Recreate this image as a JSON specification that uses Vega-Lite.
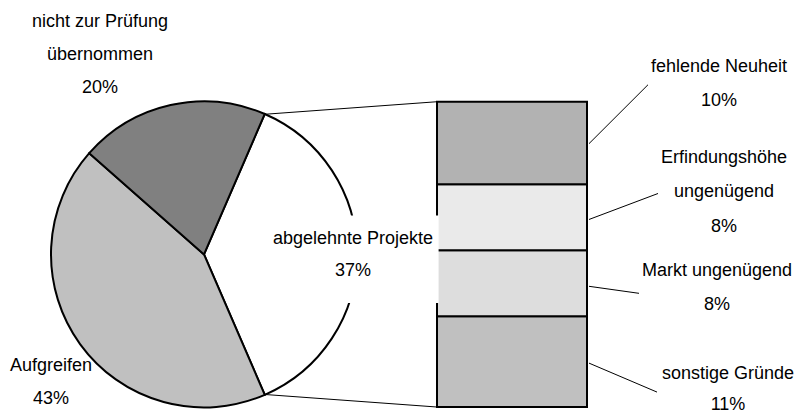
{
  "$schema": "https://vega.github.io/schema/vega-lite/v6.json",
  "width": 798,
  "height": 415,
  "padding": 0,
  "autosize": {"type": "fit", "contains": "padding"},
  "background": "white",
  "config": {"view": {"stroke": null}, "axis": {"disable": true}},
  "datasets": {
    "pie": [
      {"cat": "abgelehnte Projekte", "value": 37, "idx": 1},
      {"cat": "Aufgreifen", "value": 43, "idx": 2},
      {"cat": "nicht zur Prüfung übernommen", "value": 20, "idx": 3}
    ],
    "reasons": [
      {"cat": "sonstige Gründe", "value": 11, "idx": 1},
      {"cat": "Markt ungenügend", "value": 8, "idx": 2},
      {"cat": "Erfindungshöhe ungenügend", "value": 8, "idx": 3},
      {"cat": "fehlende Neuheit", "value": 10, "idx": 4}
    ],
    "connectors": [
      {"x1": 264.8, "y1": 35.48, "x2": 437, "y2": 37},
      {"x1": 264.8, "y1": 1.52, "x2": 437, "y2": 0}
    ],
    "leaders": [
      {"x1": 589, "y1": 31.92, "x2": 648, "y2": 39.06},
      {"x1": 589, "y1": 22.73, "x2": 658, "y2": 25.88},
      {"x1": 589, "y1": 14.63, "x2": 639, "y2": 13.78},
      {"x1": 589, "y1": 5.32, "x2": 657, "y2": 1.81}
    ],
    "labelbox": [
      {"x1": 268, "x2": 438.6, "y1": 12.6, "y2": 23.2}
    ],
    "labels": [
      {"t": "nicht zur Prüfung", "x": 100, "y": 46.67},
      {"t": "übernommen", "x": 100, "y": 42.68},
      {"t": "20%", "x": 100, "y": 38.69},
      {"t": "abgelehnte Projekte", "x": 353, "y": 20.31},
      {"t": "37%", "x": 353, "y": 16.44},
      {"t": "Aufgreifen", "x": 51, "y": 4.96},
      {"t": "43%", "x": 51, "y": 0.97},
      {"t": "fehlende Neuheit", "x": 719, "y": 41.23},
      {"t": "10%", "x": 719, "y": 37.12},
      {"t": "Erfindungshöhe", "x": 724, "y": 30.23},
      {"t": "ungenügend", "x": 724, "y": 26.12},
      {"t": "8%", "x": 724, "y": 21.76},
      {"t": "Markt ungenügend", "x": 717, "y": 16.44},
      {"t": "8%", "x": 717, "y": 12.33},
      {"t": "sonstige Gründe", "x": 728, "y": 3.99},
      {"t": "11%", "x": 728, "y": 0.24}
    ]
  },
  "encoding": {},
  "resolve": {"scale": {"color": "independent"}},
  "layer": [
    {
      "data": {"name": "pie"},
      "mark": {"type": "arc", "radius": 153, "stroke": "black", "strokeWidth": 2},
      "encoding": {
        "x": {"datum": 204, "type": "quantitative", "scale": {"domain": [0, 798], "nice": false, "zero": false}},
        "y": {"datum": 18.5, "type": "quantitative", "scale": {"domain": [-0.846, 49.33], "nice": false, "zero": false}},
        "theta": {"field": "value", "type": "quantitative", "stack": true, "scale": {"domain": [0, 100], "range": [0.4084, 6.6916]}},
        "order": {"field": "idx"},
        "color": {"field": "cat", "type": "nominal", "legend": null,
          "scale": {"domain": ["abgelehnte Projekte", "Aufgreifen", "nicht zur Prüfung übernommen"], "range": ["#ffffff", "#c0c0c0", "#808080"]}}
      }
    },
    {
      "data": {"name": "reasons"},
      "transform": [{"stack": "value", "groupby": [], "sort": [{"field": "idx", "order": "ascending"}], "as": ["s0", "s1"]}],
      "mark": {"type": "rect", "stroke": "black", "strokeWidth": 2},
      "encoding": {
        "x": {"datum": 437, "type": "quantitative"},
        "x2": {"datum": 587},
        "y": {"field": "s0", "type": "quantitative"},
        "y2": {"field": "s1"},
        "color": {"field": "cat", "type": "nominal", "legend": null,
          "scale": {"domain": ["fehlende Neuheit", "Erfindungshöhe ungenügend", "Markt ungenügend", "sonstige Gründe"], "range": ["#b2b2b2", "#eaeaea", "#dddddd", "#c0c0c0"]}}
      }
    },
    {
      "data": {"name": "labelbox"},
      "mark": {"type": "rect", "fill": "white", "strokeWidth": 0},
      "encoding": {
        "x": {"field": "x1", "type": "quantitative"},
        "x2": {"field": "x2"},
        "y": {"field": "y1", "type": "quantitative"},
        "y2": {"field": "y2"}
      }
    },
    {
      "data": {"name": "connectors"},
      "mark": {"type": "rule", "stroke": "black", "strokeWidth": 1},
      "encoding": {
        "x": {"field": "x1", "type": "quantitative"},
        "x2": {"field": "x2"},
        "y": {"field": "y1", "type": "quantitative"},
        "y2": {"field": "y2"}
      }
    },
    {
      "data": {"name": "leaders"},
      "mark": {"type": "rule", "stroke": "black", "strokeWidth": 1},
      "encoding": {
        "x": {"field": "x1", "type": "quantitative"},
        "x2": {"field": "x2"},
        "y": {"field": "y1", "type": "quantitative"},
        "y2": {"field": "y2"}
      }
    },
    {
      "data": {"name": "labels"},
      "mark": {"type": "text", "font": "Liberation Sans", "fontSize": 18, "align": "center", "baseline": "middle", "fill": "black"},
      "encoding": {
        "x": {"field": "x", "type": "quantitative"},
        "y": {"field": "y", "type": "quantitative"},
        "text": {"field": "t"}
      }
    }
  ]
}
